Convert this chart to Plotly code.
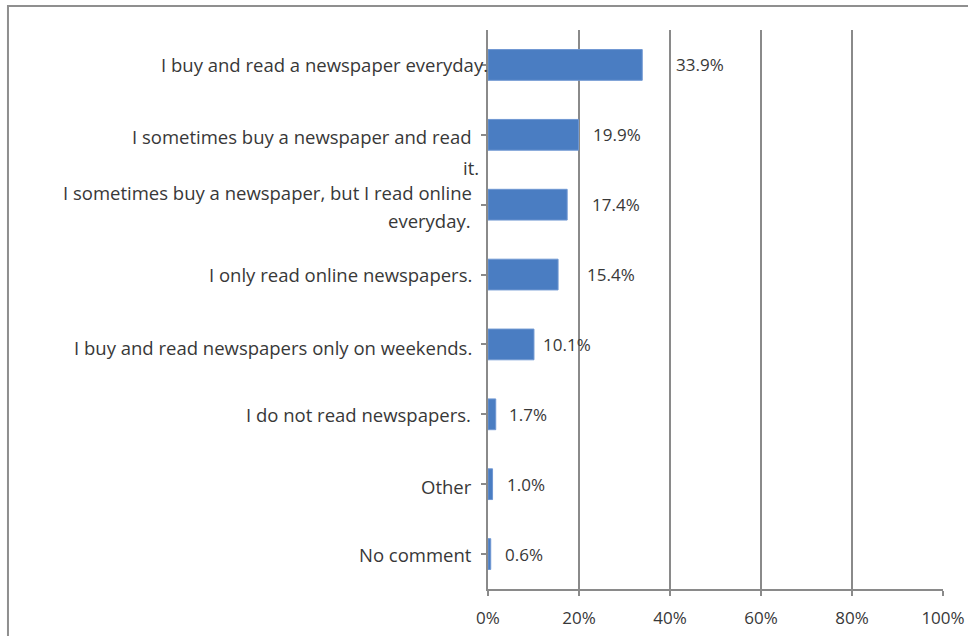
import plotly.graph_objects as go

# Survey answers (top to bottom) and their shares in percent
answers = [
    "I buy and read a newspaper everyday.",
    "I sometimes buy a newspaper and read<br>it.",
    "I sometimes buy a newspaper, but I read online<br>everyday.",
    "I only read online newspapers.",
    "I buy and read newspapers only on weekends.",
    "I do not read newspapers.",
    "Other",
    "No comment",
]
shares = [33.9, 19.9, 17.4, 15.4, 10.1, 1.7, 1.0, 0.6]
x_ticks = [0, 20, 40, 60, 80, 100]
x_tick_labels = ["0%", "20%", "40%", "60%", "80%", "100%"]

# Styling: per-line (dx, dy) pixel offsets for the wrapped category labels,
# and gap (px) between each bar end and its value label
line_shifts = [
    [(2, 0)],
    [(-14, -2), (-7, -33)],
    [(-14, 12), (-15, -16)],
    [(-14, 0)],
    [(-14, -3)],
    [(-15, 0)],
    [(-14, -2)],
    [(-14, 0)],
]
value_gaps = [32, 12, 23, 27, 7, 11, 12, 12]

FONT = "Open Sans"
TEXT = "#383838"
GRID = "#8a8a8a"
BAR = "#4a7dc2"

cat_ids = list(range(len(answers)))

fig = go.Figure(
    go.Bar(
        x=shares,
        y=cat_ids,
        orientation="h",
        marker=dict(color=BAR, line=dict(color="#6f97d2", width=1)),
        width=0.44,
        hoverinfo="skip",
    )
)

annotations = []
# Category labels, right-aligned next to the axis
for i, (label, shifts) in enumerate(zip(answers, line_shifts)):
    for line, (dx, dy) in zip(label.split("<br>"), shifts):
        annotations.append(dict(
            x=0, xref="paper", y=i, yref="y",
            text=line, showarrow=False,
            xanchor="right", yanchor="middle",
            xshift=dx, yshift=dy,
            font=dict(family=FONT, size=18.5, color=TEXT),
        ))
# Value labels just past the end of each bar
for i, (v, gap) in enumerate(zip(shares, value_gaps)):
    annotations.append(dict(
        x=v, xref="x", y=i, yref="y",
        text=f"{v:.1f}%", showarrow=False,
        xanchor="left", yanchor="middle",
        xshift=gap,
        font=dict(family=FONT, size=17, color=TEXT),
    ))

# Outer chart frame
shapes = [dict(
    type="rect", xref="paper", yref="paper",
    x0=-1.055, x1=1.2, y0=-0.2, y1=1.043,
    line=dict(color="#8f8f8f", width=2), layer="below",
)]

fig.update_layout(
    width=968, height=636,
    margin=dict(l=488, r=25, t=30, b=47, autoexpand=False),
    paper_bgcolor="white", plot_bgcolor="white",
    showlegend=False,
    annotations=annotations,
    shapes=shapes,
    font=dict(family=FONT, size=17, color=TEXT),
    xaxis=dict(
        range=[0, 100], tickvals=x_ticks, ticktext=x_tick_labels,
        showgrid=True, gridcolor=GRID, gridwidth=2,
        showline=True, linecolor=GRID, linewidth=2,
        ticks="outside", ticklen=5, tickcolor=GRID, tickwidth=2,
        ticklabelstandoff=8, zeroline=False, automargin=False,
        tickfont=dict(family=FONT, size=17, color=TEXT),
        fixedrange=True,
    ),
    yaxis=dict(
        tickvals=cat_ids, ticktext=[""] * len(cat_ids),
        range=[len(cat_ids) - 0.5, -0.5],
        showgrid=False, zeroline=False, automargin=False,
        showline=True, linecolor=GRID, linewidth=2,
        ticks="outside", ticklen=5, tickcolor=GRID, tickwidth=2,
        tickson="boundaries",
        fixedrange=True,
    ),
)

fig.write_html("out.html", config={"displayModeBar": False})
